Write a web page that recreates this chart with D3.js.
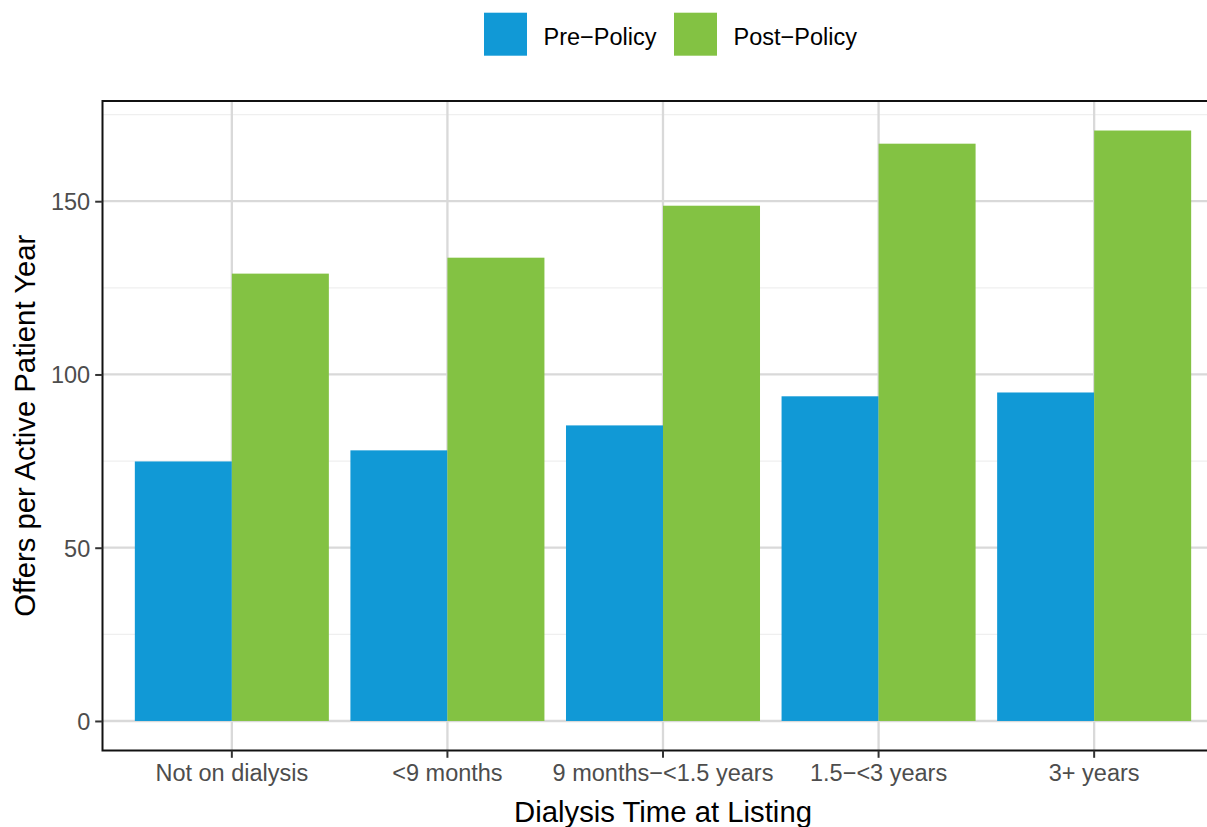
<!DOCTYPE html>
<html>
<head>
<meta charset="utf-8">
<script src="https://cdn.jsdelivr.net/npm/d3@7"></script>
<style>
  html, body { margin: 0; padding: 0; background: #ffffff; }
  svg { display: block; font-family: "Liberation Sans", Arial, Helvetica, sans-serif; }
</style>
</head>
<body>
<svg id="chart" width="1207" height="827"></svg>
<script>
// ---- data ----
const categories = ["Not on dialysis", "<9 months", "9 months\u2212<1.5 years", "1.5\u2212<3 years", "3+ years"];
const seriesNames = ["Pre\u2212Policy", "Post\u2212Policy"];
const preValues  = [74.9, 78.1, 85.3, 93.7, 94.8];
const postValues = [129.1, 133.7, 148.7, 166.6, 170.4];
const yTicks = [0, 50, 100, 150];
const yMinorTicks = [25, 75, 125, 175];
const xTitle = "Dialysis Time at Listing";
const yTitle = "Offers per Active Patient Year";
const colors = ["#1199d6", "#83c243"];

const seriesValues = [preValues, postValues];

// ---- layout ----
const svg = d3.select("#chart");
const panel = { left: 102.5, right: 1223.5, top: 101, bottom: 750.5 };

const maxV = d3.max(postValues.concat(preValues));
const pad = maxV * 0.05;
const y = d3.scaleLinear().domain([-pad, maxV + pad]).range([panel.bottom, panel.top]);

const x = d3.scaleBand().domain(categories)
  .range([panel.left, panel.right])
  .paddingInner(0.1).paddingOuter(0.15);
const xInner = d3.scaleBand().domain(seriesNames).range([0, x.bandwidth()]).padding(0);
const xCenter = c => x(c) + x.bandwidth() / 2;

svg.append("clipPath").attr("id", "clip")
  .append("rect").attr("x", panel.left).attr("y", panel.top)
  .attr("width", panel.right - panel.left).attr("height", panel.bottom - panel.top);

const g = svg.append("g").attr("clip-path", "url(#clip)");

// minor grid
g.selectAll("line.minor").data(yMinorTicks).enter().append("line")
  .attr("x1", panel.left).attr("x2", panel.right)
  .attr("y1", d => y(d)).attr("y2", d => y(d))
  .attr("stroke", "#efefef").attr("stroke-width", 1.2);
// major grid
g.selectAll("line.major").data(yTicks).enter().append("line")
  .attr("x1", panel.left).attr("x2", panel.right)
  .attr("y1", d => y(d)).attr("y2", d => y(d))
  .attr("stroke", "#d9d9d9").attr("stroke-width", 2.3);
g.selectAll("line.vmajor").data(categories).enter().append("line")
  .attr("x1", d => xCenter(d)).attr("x2", d => xCenter(d))
  .attr("y1", panel.top).attr("y2", panel.bottom)
  .attr("stroke", "#d9d9d9").attr("stroke-width", 2.3);

// bars
seriesNames.forEach((s, si) => {
  g.selectAll("rect.s" + si).data(categories).enter().append("rect")
    .attr("x", (d) => x(d) + xInner(s))
    .attr("width", xInner.bandwidth())
    .attr("y", (d, i) => y(seriesValues[si][i]))
    .attr("height", (d, i) => y(0) - y(seriesValues[si][i]))
    .attr("fill", colors[si]);
});

// panel border
svg.append("rect").attr("x", panel.left).attr("y", panel.top)
  .attr("width", panel.right - panel.left).attr("height", panel.bottom - panel.top)
  .attr("fill", "none").attr("stroke", "#111").attr("stroke-width", 2);

// y axis
const yAxis = d3.axisLeft(y).tickValues(yTicks).tickSize(7.3).tickPadding(5).tickFormat(d3.format("d"));
const ya = svg.append("g").attr("transform", `translate(${panel.left},0)`).call(yAxis);
ya.select(".domain").remove();
ya.selectAll(".tick line").attr("stroke", "#333").attr("stroke-width", 2);
ya.selectAll(".tick text").attr("fill", "#4d4d4d").style("font-size", "23.5px")
  .attr("dy", "0.36em");

// x axis
const xAxis = d3.axisBottom(x).tickSize(7.3).tickPadding(7);
const xa = svg.append("g").attr("transform", `translate(0,${panel.bottom})`).call(xAxis);
xa.select(".domain").remove();
xa.selectAll(".tick line").attr("stroke", "#333").attr("stroke-width", 2);
xa.selectAll(".tick text").attr("fill", "#4d4d4d").style("font-size", "23.5px")
  .attr("dy", "0.71em");

// axis titles
svg.append("text").attr("x", (panel.left + panel.right) / 2).attr("y", 822)
  .attr("text-anchor", "middle").attr("fill", "#000").style("font-size", "29.3px")
  .text(xTitle);
svg.append("text").attr("transform", `translate(34.5,${(panel.top + panel.bottom) / 2}) rotate(-90)`)
  .attr("text-anchor", "middle").attr("fill", "#000").style("font-size", "29.3px")
  .text(yTitle);

// legend
const legendX = [484, 674];
const leg = svg.append("g");
seriesNames.forEach((s, i) => {
  leg.append("rect").attr("x", legendX[i]).attr("y", 12.7)
    .attr("width", 43).attr("height", 43).attr("fill", colors[i]);
  leg.append("text").attr("x", legendX[i] + 59.5).attr("y", 45.3)
    .attr("fill", "#000").style("font-size", "23.5px").text(s);
});
</script>
</body>
</html>
